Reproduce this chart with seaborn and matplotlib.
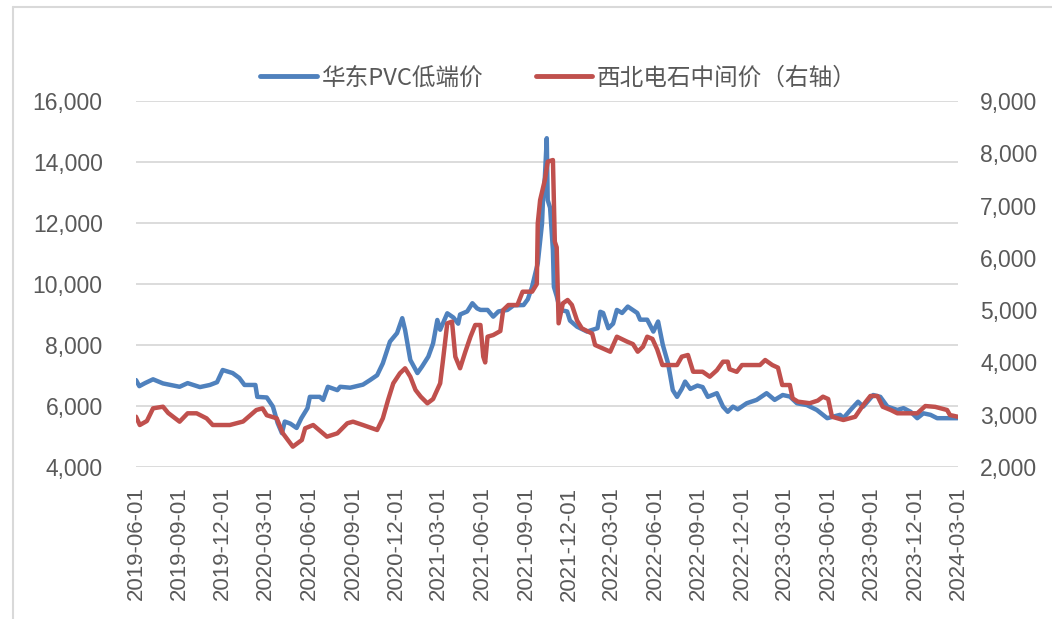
import seaborn as sns
import numpy as np
import matplotlib.pyplot as plt
import matplotlib.dates as mdates
import pandas as pd
from matplotlib.ticker import FuncFormatter

# 华东PVC低端价 (left axis)
pvc_dates = [
    "2019-06-01", "2019-06-08", "2019-06-20", "2019-07-07", "2019-07-28", "2019-09-01",
    "2019-09-18", "2019-10-14", "2019-11-04", "2019-11-19", "2019-12-01", "2019-12-22",
    "2020-01-05", "2020-01-16", "2020-02-08", "2020-02-12", "2020-03-03", "2020-03-16",
    "2020-03-26", "2020-04-04", "2020-04-10", "2020-04-22", "2020-05-05", "2020-05-15",
    "2020-05-28", "2020-06-02", "2020-06-23", "2020-06-30", "2020-07-10", "2020-07-30",
    "2020-08-05", "2020-08-26", "2020-09-22", "2020-10-07", "2020-10-22", "2020-11-03",
    "2020-11-18", "2020-12-03", "2020-12-14", "2020-12-20", "2020-12-31", "2021-01-15",
    "2021-01-25", "2021-02-07", "2021-02-17", "2021-02-26", "2021-03-04", "2021-03-19",
    "2021-04-01", "2021-04-11", "2021-04-15", "2021-04-30", "2021-05-11", "2021-05-21",
    "2021-05-28", "2021-06-12", "2021-06-24", "2021-07-05", "2021-07-24", "2021-08-06",
    "2021-08-27", "2021-09-05", "2021-09-14", "2021-09-26", "2021-10-05", "2021-10-07",
    "2021-10-11", "2021-10-15", "2021-10-17", "2021-10-22", "2021-10-28", "2021-10-30",
    "2021-11-05", "2021-11-12", "2021-11-27", "2021-12-03", "2021-12-18", "2022-01-08",
    "2022-01-30", "2022-02-05", "2022-02-11", "2022-02-22", "2022-03-04", "2022-03-12",
    "2022-03-23", "2022-04-04", "2022-04-24", "2022-04-30", "2022-05-15", "2022-05-28",
    "2022-06-07", "2022-06-17", "2022-06-28", "2022-07-08", "2022-07-17", "2022-07-27",
    "2022-08-03", "2022-08-14", "2022-08-29", "2022-09-09", "2022-09-20", "2022-10-09",
    "2022-10-22", "2022-11-01", "2022-11-12", "2022-11-22", "2022-12-11", "2023-01-01",
    "2023-01-22", "2023-02-08", "2023-02-25", "2023-03-12", "2023-03-27", "2023-04-17",
    "2023-05-08", "2023-05-30", "2023-06-26", "2023-07-03", "2023-07-18", "2023-08-03",
    "2023-08-14", "2023-09-04", "2023-09-19", "2023-10-04", "2023-10-25", "2023-11-07",
    "2023-11-22", "2023-12-06", "2023-12-19", "2024-01-03", "2024-01-17", "2024-02-29",
]
pvc_values = [
    6850, 6650, 6750, 6875, 6740, 6630,
    6750, 6620, 6690, 6780, 7180, 7080,
    6920, 6690, 6690, 6300, 6280, 5980,
    5440, 5110, 5490, 5420, 5280, 5600,
    5930, 6300, 6300, 6200, 6630, 6520,
    6630, 6600, 6700, 6850, 7010, 7400,
    8110, 8390, 8880, 8490, 7510, 7080,
    7300, 7620, 8050, 8820, 8500, 9040,
    8900, 8700, 9000, 9100, 9370, 9200,
    9150, 9150, 8930, 9100, 9150, 9300,
    9310, 9500, 9910, 10680, 11990, 12750,
    13500, 14780, 12750, 12500, 11110, 9910,
    9600, 9150, 9100, 8800, 8600, 8440,
    8550, 9090, 9050, 8550, 8700, 9150,
    9050, 9260, 9050, 8830, 8830, 8440,
    8770, 8000, 7400, 6520, 6300, 6560,
    6800, 6560, 6670, 6620, 6300, 6420,
    5980, 5810, 5980, 5890, 6090, 6200,
    6420, 6200, 6360, 6310, 6090, 6030,
    5870, 5600, 5710, 5600, 5870, 6140,
    5980, 6360, 6300, 5980, 5870, 5930,
    5810, 5600, 5760, 5710, 5600, 5600,
]

# 西北电石中间价 (right axis)
cac2_dates = [
    "2019-06-01", "2019-06-09", "2019-06-24", "2019-07-07", "2019-07-28", "2019-08-08",
    "2019-09-01", "2019-09-18", "2019-10-07", "2019-10-28", "2019-11-10", "2019-12-16",
    "2020-01-13", "2020-02-10", "2020-02-23", "2020-03-03", "2020-03-24", "2020-04-06",
    "2020-04-27", "2020-05-16", "2020-05-23", "2020-06-09", "2020-07-08", "2020-07-30",
    "2020-08-20", "2020-09-01", "2020-09-22", "2020-10-22", "2020-11-03", "2020-11-14",
    "2020-11-25", "2020-12-09", "2020-12-20", "2020-12-31", "2021-01-11", "2021-01-22",
    "2021-02-05", "2021-02-17", "2021-03-04", "2021-03-10", "2021-03-19", "2021-03-29",
    "2021-04-05", "2021-04-15", "2021-04-26", "2021-05-07", "2021-05-17", "2021-05-28",
    "2021-06-03", "2021-06-07", "2021-06-12", "2021-06-24", "2021-07-09", "2021-07-15",
    "2021-07-26", "2021-08-14", "2021-08-25", "2021-09-14", "2021-09-24", "2021-09-26",
    "2021-10-01", "2021-10-11", "2021-10-17", "2021-10-28", "2021-11-01", "2021-11-05",
    "2021-11-09", "2021-11-18", "2021-11-28", "2021-12-07", "2021-12-18", "2021-12-28",
    "2022-01-19", "2022-01-25", "2022-02-26", "2022-03-12", "2022-04-02", "2022-04-15",
    "2022-04-25", "2022-05-06", "2022-05-15", "2022-05-26", "2022-06-05", "2022-06-16",
    "2022-07-17", "2022-07-27", "2022-08-09", "2022-08-20", "2022-09-09", "2022-09-24",
    "2022-10-09", "2022-10-22", "2022-11-01", "2022-11-05", "2022-11-20", "2022-12-01",
    "2023-01-08", "2023-01-19", "2023-02-03", "2023-02-15", "2023-02-24", "2023-03-12",
    "2023-03-18", "2023-03-29", "2023-04-23", "2023-05-10", "2023-05-21", "2023-06-01",
    "2023-06-09", "2023-07-03", "2023-07-28", "2023-08-14", "2023-08-29", "2023-09-13",
    "2023-09-24", "2023-10-11", "2023-10-25", "2023-12-06", "2023-12-23", "2024-01-13",
    "2024-02-07", "2024-02-13", "2024-02-29",
]
cac2_values = [
    2962, 2803, 2880, 3122, 3153, 3033,
    2867, 3027, 3027, 2930, 2803, 2803,
    2870, 3090, 3122, 2990, 2931, 2644,
    2389, 2516, 2740, 2803, 2580, 2644,
    2836, 2867, 2803, 2708, 2931, 3281,
    3600, 3792, 3888, 3727, 3473, 3345,
    3218, 3300, 3600, 4046, 4748, 4780,
    4110, 3888, 4200, 4492, 4716, 4716,
    4110, 4000, 4492, 4524, 4600, 5002,
    5098, 5098, 5353, 5353, 5500, 6660,
    7106, 7489, 7840, 7871, 6309, 6200,
    4748, 5130, 5194, 5100, 4800, 4652,
    4550, 4333, 4205, 4492, 4400, 4350,
    4205, 4300, 4492, 4450, 4250, 3950,
    3950, 4110, 4142, 3822, 3822, 3727,
    3850, 4014, 4014, 3870, 3820, 3950,
    3950, 4046, 3950, 3900, 3568, 3568,
    3313, 3250, 3220, 3270, 3345, 3300,
    2962, 2899, 2960, 3186, 3358, 3358,
    3153, 3090, 3027, 3027, 3166, 3150,
    3090, 2994, 2962,
]

tick_dates = pd.date_range("2019-06-01", "2024-03-01", freq="3MS")

pvc = pd.DataFrame({"date": pd.to_datetime(pvc_dates), "value": pvc_values})
cac2 = pd.DataFrame({"date": pd.to_datetime(cac2_dates), "value": cac2_values})

sns.set_theme(style="white")
plt.rcParams["font.family"] = ["Liberation Sans", "Noto Sans CJK SC", "DejaVu Sans"]

blue = "#4F81BD"
red = "#C0504D"
txt = "#595959"

fig = plt.figure(figsize=(10.52, 6.19), dpi=100)
ax = fig.add_axes([136 / 1052, 1 - 467 / 619, 822 / 1052, 366 / 619])
ax2 = ax.twinx()

sns.lineplot(data=pvc, x="date", y="value", ax=ax, color=blue, linewidth=3.2, zorder=3)
sns.lineplot(data=cac2, x="date", y="value", ax=ax2, color=red, linewidth=3.2, zorder=3)

ax.set_ylim(4000, 16000)
ax.set_yticks(np.arange(4000, 16001, 2000))
ax2.set_ylim(2000, 9000)
ax2.set_yticks(np.arange(2000, 9001, 1000))
ax.set_xlim(tick_dates[0], tick_dates[-1])
ax.set_xticks(tick_dates)
ax.xaxis.set_major_formatter(mdates.DateFormatter("%Y-%m-%d"))

fmt = FuncFormatter(lambda v, p: f"{int(v):,}")
ax.yaxis.set_major_formatter(fmt)
ax2.yaxis.set_major_formatter(fmt)

ax.grid(axis="y", color="#D9D9D9", linewidth=1.3, zorder=0)
ax.grid(axis="x", visible=False)
ax2.grid(False)
for a in (ax, ax2):
    for s in a.spines.values():
        s.set_visible(False)
    a.set_xlabel("")
    a.set_ylabel("")

ax.tick_params(axis="y", length=0, pad=24, labelsize=16.5, labelcolor=txt)
ax2.tick_params(axis="y", length=0, pad=16, labelsize=16.5, labelcolor=txt)
ax.tick_params(axis="x", length=0, pad=14, labelsize=16, labelcolor=txt, rotation=90)

# legend
h1 = plt.Line2D([], [], color=blue, linewidth=3.5)
h2 = plt.Line2D([], [], color=red, linewidth=3.5)
fig.legend([h1, h2], ["华东PVC低端价", "西北电石中间价（右轴）"],
           loc="center", bbox_to_anchor=(0.531, 0.874), ncol=2, frameon=False,
           prop={"family": ["Noto Sans CJK SC", "DejaVu Sans"], "size": 17},
           labelcolor=txt, handlelength=2.4, handletextpad=0.2, columnspacing=2.2)

# chart frame
fig.add_artist(plt.Line2D([13 / 1052, 13 / 1052], [0, 1 - 7 / 619], color="#D9D9D9",
                          linewidth=1.5, transform=fig.transFigure))
fig.add_artist(plt.Line2D([13 / 1052, 1], [1 - 7 / 619, 1 - 7 / 619], color="#D9D9D9",
                          linewidth=1.5, transform=fig.transFigure))

fig.savefig("out.png", dpi=100)
